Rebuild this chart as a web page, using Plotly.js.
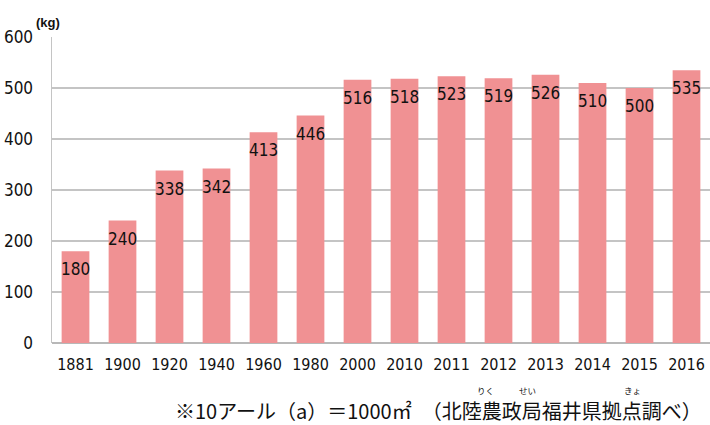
<!DOCTYPE html>
<html>
<head>
<meta charset="utf-8">
<script src="https://cdn.plot.ly/plotly-3.0.1.min.js"></script>
<style>html,body{margin:0;padding:0;background:#fff;}#chart{width:710px;height:425px;}</style>
</head>
<body>
<div id="chart"></div>
<script>
const years = ["1881","1900","1920","1940","1960","1980","2000","2010","2011","2012","2013","2014","2015","2016"];
const yields = [180,240,338,342,413,446,516,518,523,519,526,510,500,535];
const yTicks = [0,100,200,300,400,500,600];
const unitLabel = "(kg)";
const footnote = "※10アール（a）＝1000㎡　（北陸農政局福井県拠点調べ）";
const rubyTexts = ["りく","せい","きょ"];

const narrow = "'DejaVu Sans Condensed', 'Liberation Sans Narrow', sans-serif";
const jp = "'Noto Sans CJK JP', sans-serif";

const trace = {
  type: "bar",
  x: years,
  y: yields,
  marker: {color: "#f09193", line: {width: 0}},
  hoverinfo: "x+y"
};

const valueLabels = years.map((yr, i) => ({
  text: String(yields[i]), x: i, y: yields[i], xref: "x", yref: "y",
  xanchor: "center", yanchor: "top", yshift: -6, showarrow: false,
  font: {family: narrow, size: 17, color: "#111"}
}));

const layout = {
  width: 710, height: 425,
  margin: {l: 52, r: 0, t: 37, b: 82},
  paper_bgcolor: "#fff", plot_bgcolor: "#fff",
  bargap: 0.41,
  showlegend: false,
  xaxis: {
    type: "category",
    range: [-0.5, years.length - 0.5],
    showgrid: false, zeroline: false,
    showline: false,
    ticks: "",
    ticklabelstandoff: 10,
    tickfont: {family: narrow, size: 16, color: "#111"}
  },
  yaxis: {
    range: [0, 600],
    tickvals: yTicks,
    ticktext: yTicks.map(String),
    showgrid: true, gridcolor: "#c4c4c4", gridwidth: 1.5,
    zeroline: true, zerolinecolor: "#b8b8b8", zerolinewidth: 1.5,
    showline: true, linecolor: "#c4c4c4", linewidth: 1.5,
    ticks: "",
    ticklabelstandoff: 14,
    tickfont: {family: narrow, size: 17, color: "#111"}
  },
  annotations: valueLabels.concat([
    {text: unitLabel, xref: "paper", yref: "paper", x: (48-52)/658, y: 1, xanchor: "center", yanchor: "middle",
     yshift: 15, showarrow: false, font: {family: "'Liberation Sans', sans-serif", size: 13, color: "#111", weight: "bold"}},
    {text: footnote, xref: "paper", yref: "paper", x: (174-52)/658, y: 0, xanchor: "left", yanchor: "middle",
     yshift: -67, borderpad: 0, showarrow: false, font: {family: jp, size: 20, color: "#111"}},
    {text: rubyTexts[0], xref: "paper", yref: "paper", x: (486-52)/658, y: 0, xanchor: "center", yanchor: "middle",
     yshift: -47, borderpad: 0, showarrow: false, font: {family: jp, size: 8.5, color: "#111"}},
    {text: rubyTexts[1], xref: "paper", yref: "paper", x: (527-52)/658, y: 0, xanchor: "center", yanchor: "middle",
     yshift: -47, borderpad: 0, showarrow: false, font: {family: jp, size: 8.5, color: "#111"}},
    {text: rubyTexts[2], xref: "paper", yref: "paper", x: (632-52)/658, y: 0, xanchor: "center", yanchor: "middle",
     yshift: -47, borderpad: 0, showarrow: false, font: {family: jp, size: 8.5, color: "#111"}}
  ])
};

Plotly.newPlot("chart", [trace], layout, {displayModeBar: false, staticPlot: true});
</script>
</body>
</html>
